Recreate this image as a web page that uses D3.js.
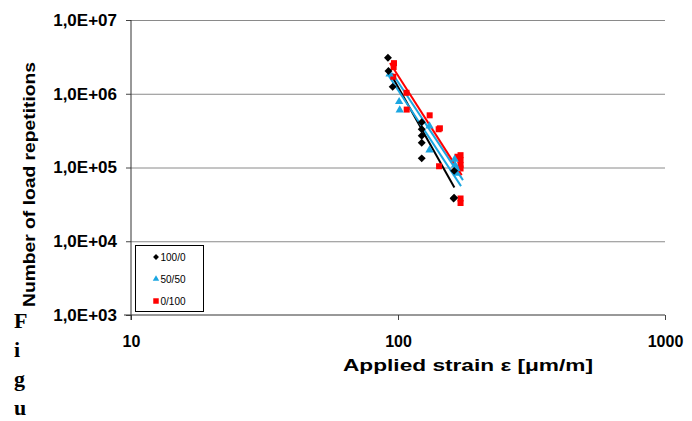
<!DOCTYPE html>
<html>
<head>
<meta charset="utf-8">
<script src="https://cdn.jsdelivr.net/npm/d3@7"></script>
<style>
  body { margin: 0; background: #fff; }
  svg { display: block; font-family: "Liberation Sans", Arial, sans-serif; }
</style>
</head>
<body>
<div id="chart"></div>
<script>
const w = 692;
const h = 421;

// values: [strain, load repetitions]
const seriesNames = ["100/0", "50/50", "0/100"];
const pts100_0 = [
  [91.7, 3.08e6], [92.1, 2.03e6], [95.5, 1.24e6],
  [122.7, 4.1e5], [122.7, 3.3e5], [122.7, 2.7e5], [122.7, 2.16e5], [122.7, 1.33e5],
  [162.3, 9.0e4], [162.3, 3.9e4], [161.5, 3.8e4]
];
const pts50_50 = [
  [93, 1.85e6], [101, 7.8e5], [101.5, 6.0e5],
  [131.2, 3.65e5], [131.2, 1.72e5],
  [163, 1.29e5], [163.5, 1.08e5], [165.5, 9.7e4], [166, 8.3e4]
];
const pts0_100 = [
  [96.6, 2.6e6], [96.3, 2.3e6], [96, 1.7e6],
  [107.6, 1.03e6], [107.8, 6.1e5], [131.4, 5.1e5],
  [142, 3.3e5], [143.5, 3.4e5], [142.5, 1.04e5],
  [167, 1.4e5], [171.5, 1.47e5], [171.5, 1.26e5], [171.5, 1.08e5], [171.5, 9.7e4],
  [171.5, 3.8e4], [171.5, 3.3e4]
];
// trend lines, end points
const fit100_0 = [[91.7, 2.16e6], [162.6, 5.37e4]];
const fit50_50a = [[92.4, 1.74e6], [172.2, 5.59e4]];
const fit50_50b = [[95.0, 1.91e6], [175.1, 6.75e4]];
const fit0_100 = [[93.3, 2.61e6], [173.2, 7.89e4]];

const xTicks = [10, 100, 1000];
const yTicks = [1e3, 1e4, 1e5, 1e6, 1e7];

const colBlack = "#000000";
const colCyan = "#1ba6e1";
const colRed = "#ff0000";

const svg = d3.select("#chart")
  .append("svg")
    .attr("width", w)
    .attr("height", h);

const x = d3.scaleLog().domain([10, 1000]).range([131, 665]);
const y = d3.scaleLog().domain([1e3, 1e7]).range([315, 20]);

// gridlines
svg.append("g")
    .attr("transform", "translate(131,0)")
    .call(d3.axisLeft(y).tickValues(yTicks.slice(1)).tickSize(-(665 - 131)).tickFormat(""))
    .call(g => g.select(".domain").remove())
    .call(g => g.selectAll("line").attr("stroke", "#8a8a8a"));

// y axis
const yAxis = svg.append("g")
    .attr("transform", "translate(131,0)")
    .call(d3.axisLeft(y).tickValues(yTicks).tickSize(5).tickPadding(9)
      .tickFormat(d => "1,0E+0" + Math.round(Math.log10(d))));
yAxis.select(".domain").remove();
yAxis.selectAll("line").attr("stroke", "#444");
yAxis.selectAll("text")
    .attr("font-size", 17).attr("font-weight", "bold").attr("fill", "#000")
    .attr("font-family", "Liberation Sans, Arial, sans-serif");

// x axis
const xAxis = svg.append("g")
    .attr("transform", "translate(0,315)")
    .call(d3.axisBottom(x).tickValues(xTicks).tickSize(5).tickPadding(16)
      .tickFormat(d3.format("d")));
xAxis.select(".domain").remove();
xAxis.selectAll("line").attr("stroke", "#444");
xAxis.selectAll("text")
    .attr("font-size", 16).attr("font-weight", "bold").attr("fill", "#000")
    .attr("font-family", "Liberation Sans, Arial, sans-serif");

// axis lines
svg.append("line")
    .attr("x1", x(10)).attr("x2", x(10))
    .attr("y1", y(1e7)).attr("y2", y(1e3) + 5)
    .attr("stroke", "#333");
svg.append("line")
    .attr("x1", x(10) - 7).attr("x2", x(1000))
    .attr("y1", y(1e3)).attr("y2", y(1e3))
    .attr("stroke", "#333");

// trend lines
const line = d3.line().x(d => x(d[0])).y(d => y(d[1]));
[[fit100_0, colBlack], [fit50_50a, colCyan], [fit50_50b, colCyan], [fit0_100, colRed]]
  .forEach(([d, c]) => {
    svg.append("path").datum(d)
      .attr("d", line)
      .attr("fill", "none")
      .attr("stroke", c)
      .attr("stroke-width", 2);
  });

// markers
const diamond = d3.symbol().type(d3.symbolDiamond2).size(40);
const triangle = d3.symbol().type(d3.symbolTriangle).size(30);

svg.append("g").selectAll("rect")
  .data(pts0_100)
  .enter()
  .append("rect")
    .attr("x", d => x(d[0]) - 3)
    .attr("y", d => y(d[1]) - 3)
    .attr("width", 6)
    .attr("height", 6)
    .attr("fill", colRed);

svg.append("g").selectAll("path")
  .data(pts50_50)
  .enter()
  .append("path")
    .attr("d", triangle)
    .attr("transform", d => "translate(" + x(d[0]) + "," + y(d[1]) + ")")
    .attr("fill", colCyan);

svg.append("g").selectAll("path")
  .data(pts100_0)
  .enter()
  .append("path")
    .attr("d", diamond)
    .attr("transform", d => "translate(" + x(d[0]) + "," + y(d[1]) + ")")
    .attr("fill", colBlack);

// legend
const legend = svg.append("g");
legend.append("rect")
    .attr("x", 135.5).attr("y", 245.5)
    .attr("width", 68).attr("height", 66)
    .attr("fill", "#fff")
    .attr("stroke", "#000");
const legRows = [
  {name: seriesNames[0], col: colBlack, sym: d3.symbol().type(d3.symbolDiamond2).size(22)},
  {name: seriesNames[1], col: colCyan, sym: d3.symbol().type(d3.symbolTriangle).size(18)},
  {name: seriesNames[2], col: colRed, sym: d3.symbol().type(d3.symbolSquare).size(30)}
];
legRows.forEach((r, i) => {
  const cy = 257 + i * 22;
  legend.append("path")
    .attr("d", r.sym)
    .attr("transform", "translate(156," + cy + ")")
    .attr("fill", r.col);
  legend.append("text")
    .attr("x", 160.5).attr("y", cy + 3.5)
    .attr("font-size", 10)
    .attr("fill", "#000")
    .text(r.name);
});

// axis titles
svg.append("text")
    .attr("x", 468).attr("y", 371)
    .attr("text-anchor", "middle")
    .attr("font-size", 16).attr("font-weight", "bold")
    .attr("textLength", 250).attr("lengthAdjust", "spacingAndGlyphs")
    .text("Applied strain \u03b5 [\u03bcm/m]");

svg.append("text")
    .attr("transform", "translate(35,184.5)rotate(-90)")
    .attr("text-anchor", "middle")
    .attr("font-size", 16).attr("font-weight", "bold")
    .attr("textLength", 245).attr("lengthAdjust", "spacingAndGlyphs")
    .text("Number of load repetitions");

// stray caption letters down the left side
const capLetters = ["F", "i", "g", "u"];
capLetters.forEach((c, i) => {
  svg.append("text")
    .attr("x", 14).attr("y", 328 + i * 29)
    .attr("font-family", "Liberation Serif, Times New Roman, serif")
    .attr("font-size", 22).attr("font-weight", "bold")
    .text(c);
});
</script>
</body>
</html>
